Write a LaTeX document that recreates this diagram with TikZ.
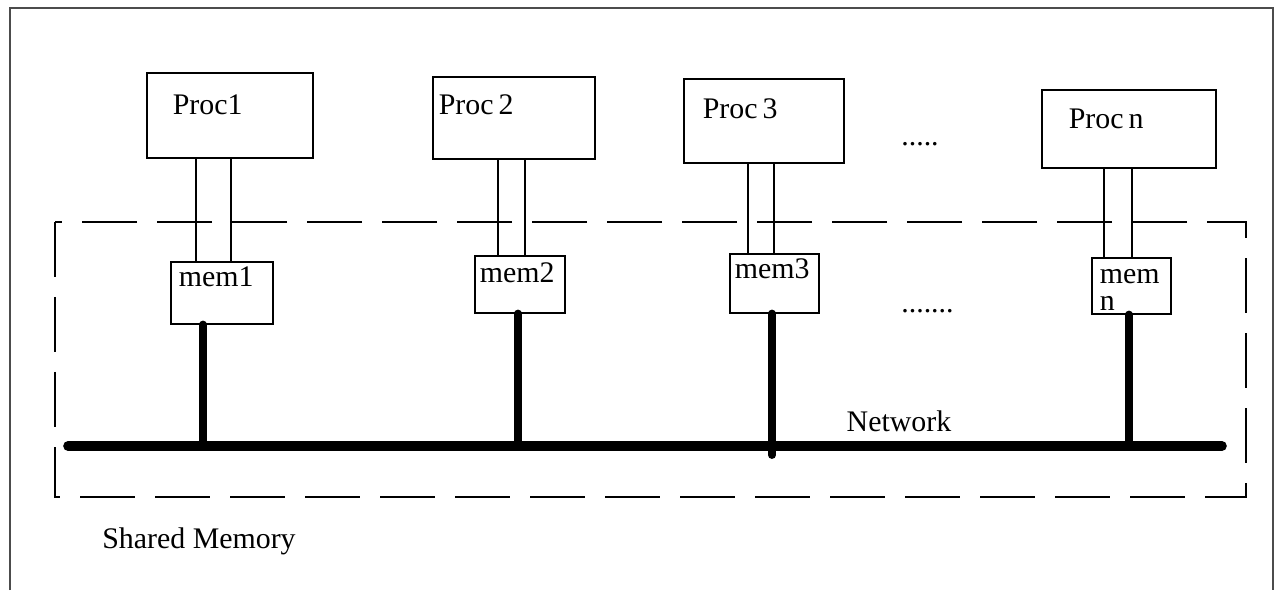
\documentclass[tikz,border=0pt]{standalone}
\usepackage{fontspec}
\setmainfont{Liberation Serif}
\usetikzlibrary{positioning}

\tikzset{
    procbox/.style={draw, line width=0.9pt, anchor=north west, inner sep=0pt,
        align=left, font=\fontsize{17}{15.4}\selectfont},
    membox/.style={procbox},
    link/.style={line width=0.9pt},
    wire/.style={line width=4.5pt, line cap=round},
    bus/.style={line width=5.5pt, line cap=round},
    region/.style={line width=0.8pt, dash pattern=on 1.1cm off 0.4cm},
    lbl/.style={font=\fontsize{17}{18}\selectfont, inner sep=0pt}
}

\begin{document}
\begin{tikzpicture}
    \useasboundingbox (0,0) rectangle (25.48,11.8);
    \draw [line width=0.6pt, black!70] (0.2,0) -- (0.2,11.64) -- (25.46,11.64) -- (25.46,0);

    % processors
    \path (2.92,10.36) node [procbox, text width=3.32cm, text height=0.84cm, text depth=0.86cm] (p1) {\hspace*{0.52cm}Proc1};
    \path (8.64,10.28) node [procbox, text width=3.24cm, text height=0.76cm, text depth=0.88cm] (p2) {\hspace*{0.12cm}Proc\hspace{0.1cm}2};
    \path (13.66,10.24) node [procbox, text width=3.2cm, text height=0.8cm, text depth=0.88cm] (p3) {\hspace*{0.38cm}Proc\hspace{0.1cm}3};
    \path (20.82,10.02) node [procbox, text width=3.48cm, text height=0.78cm, text depth=0.78cm] (pn) {\hspace*{0.54cm}Proc\hspace{0.1cm}n};
    \path (18.02,8.88) node [lbl, anchor=base west] (dots1) {.....};

    % shared memory region
    \draw [region] (1.1,7.36) rectangle (24.92,1.86);
    \path (2.04,0.84) node [lbl, anchor=base west] (shm) {Shared Memory};

    % memories
    \path (3.4,6.58) node [membox, text width=2.04cm, text height=0.5cm, text depth=0.74cm] (m1) {\hspace*{0.16cm}mem1};
    \path (9.48,6.7) node [membox, text width=1.8cm, text height=0.54cm, text depth=0.6cm] (m2) {\hspace*{0.1cm}mem2};
    \path (14.58,6.74) node [membox, text width=1.78cm, text height=0.5cm, text depth=0.68cm] (m3) {\hspace*{0.1cm}mem3};
    \path (21.82,6.66) node [membox, text width=1.58cm, text height=0.52cm, text depth=0.6cm] (mn) {\hspace*{0.16cm}mem\\\hspace*{0.16cm}n};
    \path (18.02,5.54) node [lbl, anchor=base west] (dots2) {.......};

    \draw [link] (3.92,0 |- p1.south) -- (3.92,0 |- m1.north);
    \draw [link] (4.62,0 |- p1.south) -- (4.62,0 |- m1.north);
    \draw [link] (9.96,0 |- p2.south) -- (9.96,0 |- m2.north);
    \draw [link] (10.5,0 |- p2.south) -- (10.5,0 |- m2.north);
    \draw [link] (14.96,0 |- p3.south) -- (14.96,0 |- m3.north);
    \draw [link] (15.48,0 |- p3.south) -- (15.48,0 |- m3.north);
    \draw [link] (22.08,0 |- pn.south) -- (22.08,0 |- mn.north);
    \draw [link] (22.64,0 |- pn.south) -- (22.64,0 |- mn.north);

    % network
    \coordinate (busL) at (1.36,2.88);
    \coordinate (busR) at (24.44,2.88);
    \draw [bus] (busL) -- (busR);
    \path (17.98,3.16) node [lbl, anchor=base] (net) {Network};
    \draw [wire] (4.06,0 |- m1.south) -- (4.06,0 |- busL);
    \draw [wire] (10.36,0 |- m2.south) -- (10.36,0 |- busL);
    \draw [wire] (15.44,0 |- m3.south) -- (15.44,2.7);
    \draw [wire] (22.58,0 |- mn.south) -- (22.58,0 |- busL);
\end{tikzpicture}
\end{document}
